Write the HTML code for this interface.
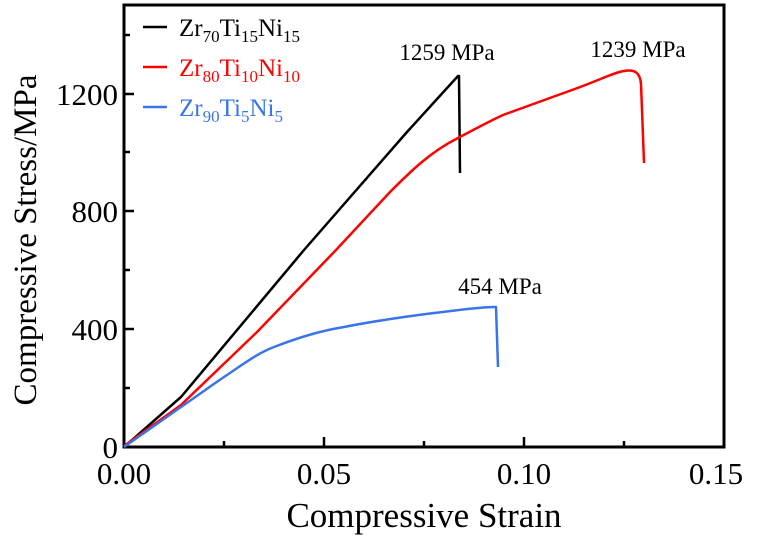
<!DOCTYPE html>
<html><head><meta charset="utf-8"><style>
html,body{margin:0;padding:0;background:#fff}
svg{display:block}
text{font-family:"Liberation Serif",serif}
</style></head><body>
<svg width="759" height="537" viewBox="0 0 759 537" xmlns="http://www.w3.org/2000/svg">
<rect x="124" y="5" width="600" height="442" fill="none" stroke="#000" stroke-width="3"/>
<g stroke="#000" stroke-width="2.5">
<line x1="324" y1="447" x2="324" y2="437"/><line x1="524" y1="447" x2="524" y2="437"/>
<line x1="224" y1="447" x2="224" y2="441"/><line x1="424" y1="447" x2="424" y2="441"/><line x1="624" y1="447" x2="624" y2="441"/>
<line x1="124" y1="329" x2="134" y2="329"/><line x1="124" y1="211" x2="134" y2="211"/><line x1="124" y1="94" x2="134" y2="94"/>
<line x1="124" y1="388" x2="130" y2="388"/><line x1="124" y1="270" x2="130" y2="270"/><line x1="124" y1="152" x2="130" y2="152"/><line x1="124" y1="35" x2="130" y2="35"/>
</g>
<g font-size="31" text-anchor="end">
<text x="118" y="458">0</text><text x="118" y="340">400</text><text x="118" y="222">800</text><text x="118" y="105">1200</text>
</g>
<g font-size="31" text-anchor="middle">
<text x="124" y="484">0.00</text><text x="324" y="484">0.05</text><text x="524" y="484">0.10</text><text x="716" y="484">0.15</text>
</g>
<text x="424" y="527" font-size="35" text-anchor="middle">Compressive Strain</text>
<text transform="translate(36,240) rotate(-90)" font-size="33" text-anchor="middle">Compressive Stress/MPa</text>
<g fill="none" stroke-width="2.5" stroke-linejoin="round">
<path d="M124,447 L181,397 L304,250 L407,132 L458,76 L459,76 L460,173" stroke="#000"/>
<path d="M124,446 L181,405 L257,332 L336,250 L390,192 C410,172 430,152 458,138 C475,129 490,121 503,115 L572,90 C600,80 615,72 624,71 C634,69 640,72 641,84 L642,110 L644,163" stroke="#f00"/>
<path d="M124,447 L181,407 C200,394 212,385 224,377 C245,363 258,353 274,347 C300,337 320,331 344,327 C380,320 410,316 434,313 C460,310 480,307 494,307 L496,307 L498,367" stroke="#3a75e8"/>
</g>
<g stroke-width="2.5">
<line x1="143" y1="27" x2="167" y2="27" stroke="#000"/>
<line x1="143" y1="67" x2="167" y2="67" stroke="#f00"/>
<line x1="143" y1="107" x2="167" y2="107" stroke="#3a75e8"/>
</g>
<g font-size="25">
<text x="179" y="36" fill="#000">Zr<tspan font-size="17" dy="6">70</tspan><tspan dy="-6">Ti</tspan><tspan font-size="17" dy="6">15</tspan><tspan dy="-6">Ni</tspan><tspan font-size="17" dy="6">15</tspan></text>
<text x="179" y="76" fill="#f00">Zr<tspan font-size="17" dy="6">80</tspan><tspan dy="-6">Ti</tspan><tspan font-size="17" dy="6">10</tspan><tspan dy="-6">Ni</tspan><tspan font-size="17" dy="6">10</tspan></text>
<text x="179" y="116" fill="#3a75e8">Zr<tspan font-size="17" dy="6">90</tspan><tspan dy="-6">Ti</tspan><tspan font-size="17" dy="6">5</tspan><tspan dy="-6">Ni</tspan><tspan font-size="17" dy="6">5</tspan></text>
</g>
<g font-size="23" text-anchor="middle">
<text x="447" y="60">1259 MPa</text>
<text x="638" y="57">1239 MPa</text>
<text x="500" y="294">454 MPa</text>
</g>
</svg>
</body></html>
